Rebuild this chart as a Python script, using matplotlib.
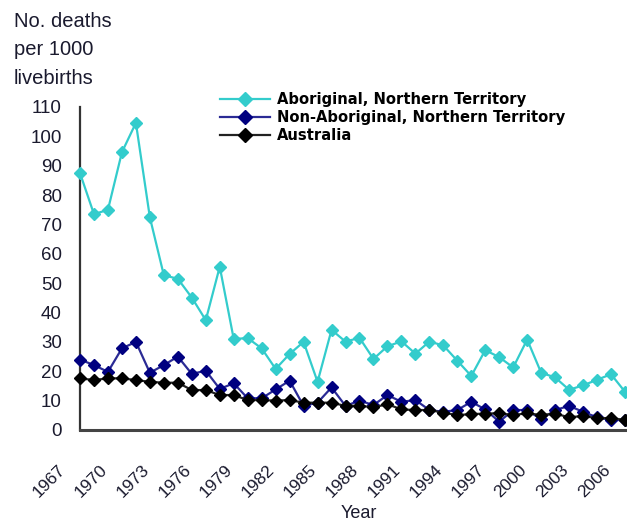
#!/usr/bin/env python3
"""
Infant mortality, Northern Territory vs Australia, 1967-2006.
"""

import matplotlib
matplotlib.use("Agg")
import matplotlib.pyplot as plt
import matplotlib.transforms as mtransforms

# Data
years = list(range(1967, 2007))

aboriginal_nt = [87.5, 73.5, 75.0, 94.6, 104.6, 72.4, 52.7, 51.5, 45.1, 37.4,
                 55.6, 31.0, 31.3, 27.8, 20.8, 25.9, 30.0, 16.4, 34.1, 30.1,
                 31.4, 24.2, 28.5, 30.2, 26.0, 30.1, 28.8, 23.6, 18.4, 27.2,
                 24.8, 21.3, 30.8, 19.5, 17.9, 13.7, 15.2, 17.1, 19.0, 13.0]

non_aboriginal_nt = [24.0, 22.1, 19.8, 27.8, 30.0, 19.5, 22.1, 25.0, 19.1, 20.2,
                     14.0, 15.9, 10.8, 10.8, 13.8, 16.8, 8.2, 9.3, 14.5, 8.2,
                     10.0, 8.5, 11.9, 9.6, 10.2, 6.8, 6.2, 6.8, 9.6, 7.0,
                     2.8, 6.8, 6.8, 3.6, 6.8, 8.2, 6.2, 4.3, 3.4, 3.4]

australia = [17.6, 17.0, 17.6, 17.6, 17.0, 16.4, 16.1, 16.1, 13.6, 13.6,
             11.9, 11.9, 10.2, 10.2, 10.0, 10.2, 9.3, 9.3, 9.3, 8.2,
             8.3, 7.7, 8.8, 7.0, 6.8, 6.8, 5.9, 5.1, 5.4, 5.6,
             5.7, 5.1, 5.7, 5.1, 5.6, 4.3, 4.8, 4.0, 4.1, 3.4]

series_labels = ["Aboriginal, Northern Territory",
                 "Non-Aboriginal, Northern Territory",
                 "Australia"]

year_ticks = list(range(1967, 2007, 3))
value_ticks = list(range(0, 111, 10))


def make_chart():
    W, H = 627, 524
    fig = plt.figure(figsize=(W / 100, H / 100), dpi=100)

    # axes box in pixels: x 80..625, y 107..430
    left, right, top, bottom = 80, 625, 107, 430
    ax = fig.add_axes([left / W, 1 - bottom / H, (right - left) / W, (bottom - top) / H])

    # (values, line colour, marker colour)
    styles = [
        (aboriginal_nt, "#33CCCC", "#33CCCC"),
        (non_aboriginal_nt, "#2B2B95", "#000080"),
        (australia, "#222222", "#000000"),
    ]
    for (vals, lc, mc), label in zip(styles, series_labels):
        ax.plot(years, vals, color=lc, linewidth=1.6, marker="D", markersize=6.5,
                markerfacecolor=mc, markeredgecolor=mc, label=label, clip_on=False,
                zorder=3)

    ax.set_xlim(1967, 2006)
    ax.set_ylim(0, 110)
    ax.set_xticks(year_ticks)
    ax.set_yticks(value_ticks)

    for side in ("top", "right"):
        ax.spines[side].set_visible(False)
    ax.spines["left"].set_color("#333333")
    ax.spines["left"].set_linewidth(1.6)
    ax.spines["bottom"].set_color("#444444")
    ax.spines["bottom"].set_linewidth(2.2)

    ax.tick_params(axis="y", length=0, pad=13, labelsize=13.5, labelcolor="#1a1a2e")
    ax.tick_params(axis="x", length=0, pad=23, labelsize=12.5, labelcolor="#1a1a2e")
    for lbl in ax.get_yticklabels():
        lbl.set_family("Liberation Sans")
    # rotated year labels sit a little left of their ticks
    shift = mtransforms.ScaledTranslation(-12 / 100, 0, fig.dpi_scale_trans)
    for lbl in ax.get_xticklabels():
        lbl.set_family("Liberation Sans")
        lbl.set_rotation(45)
        lbl.set_ha("right")
        lbl.set_va("top")
        lbl.set_transform(lbl.get_transform() + shift)

    # axis titles
    fig.text(14 / W, 1 - 12 / H, "No. deaths\nper 1000\nlivebirths", ha="left", va="top",
             fontsize=14.5, family="Liberation Sans", color="#1a1a2e", linespacing=1.62)
    fig.text(359 / W, 1 - 514 / H, "Year", ha="center", va="center",
             fontsize=13, family="Liberation Sans", color="#1a1a2e")

    leg = fig.legend(loc="upper left", bbox_to_anchor=(220 / W, 1 - 92 / H),
                     bbox_transform=fig.transFigure, frameon=False,
                     borderpad=0, borderaxespad=0, handlelength=3.4,
                     handletextpad=0.5, labelspacing=0.2,
                     prop={"family": "DejaVu Sans", "weight": "bold", "size": 10.6})
    for h in leg.legend_handles:
        h.set_markersize(7)

    fig.savefig("out.png", dpi=100)


if __name__ == "__main__":
    make_chart()
